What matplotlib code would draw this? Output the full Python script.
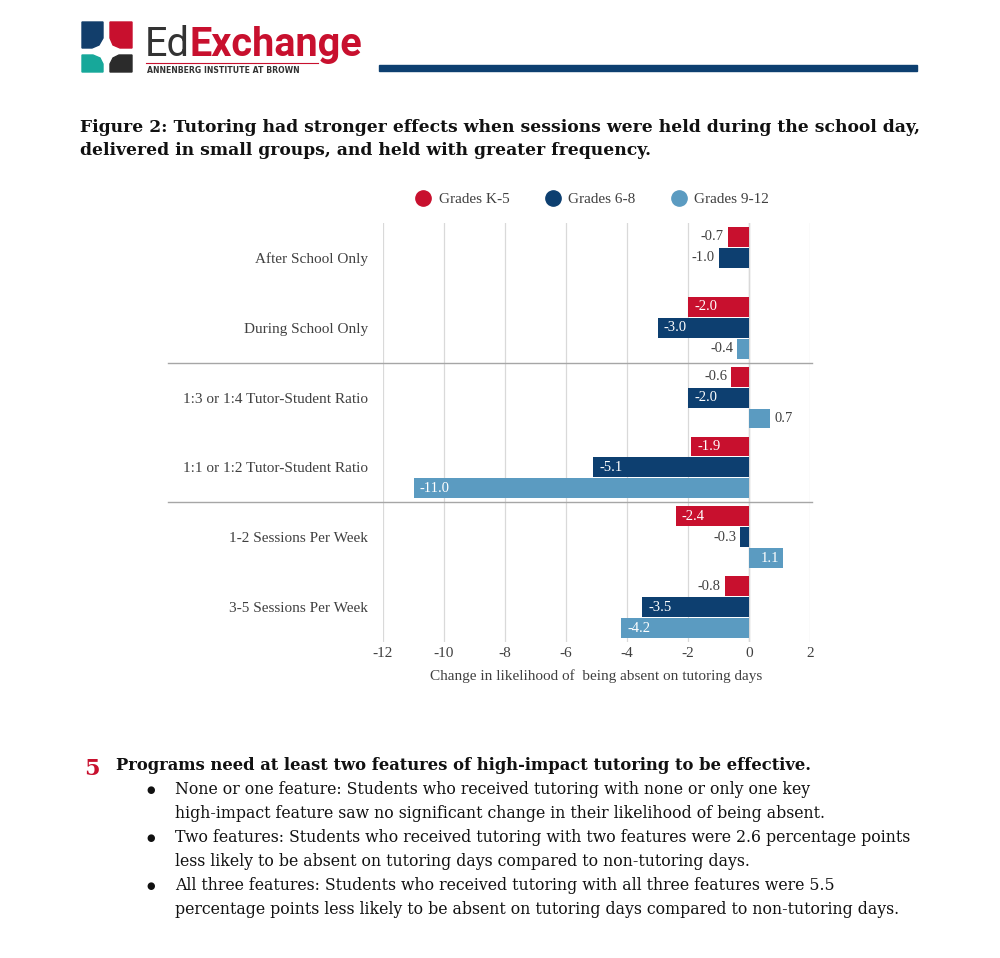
import matplotlib
matplotlib.use("Agg")
import matplotlib.pyplot as plt
import numpy as np
from matplotlib.lines import Line2D
from matplotlib.patches import Polygon, Rectangle

categories = ["After School Only", "During School Only", "1:3 or 1:4 Tutor-Student Ratio",
              "1:1 or 1:2 Tutor-Student Ratio", "1-2 Sessions Per Week", "3-5 Sessions Per Week"]
series_names = ["Grades K-5", "Grades 6-8", "Grades 9-12"]
k5 = [-0.7, -2.0, -0.6, -1.9, -2.4, -0.8]
g68 = [-1.0, -3.0, -2.0, -5.1, -0.3, -3.5]
g912 = [None, -0.4, 0.7, -11.0, 1.1, -4.2]
xticks = [-12, -10, -8, -6, -4, -2, 0, 2]
xlabel = "Change in likelihood of  being absent on tutoring days"

RED = "#C8102E"
NAVY = "#0D3F70"
LIGHT = "#5B9BC1"
colors = [RED, NAVY, LIGHT]
SERIF = ["Liberation Serif", "DejaVu Serif"]
GEORGIA = ["DejaVu Serif"]

fig = plt.figure(figsize=(10, 9.58), dpi=100)
W, H = 1000, 958

bg = fig.add_axes([0, 0, 1, 1], zorder=0)
bg.set_xlim(0, W)
bg.set_ylim(H, 0)
bg.axis("off")

# ---- Logo ----
bg.add_patch(Polygon([(82, 22), (103, 22), (103, 38), (99, 45), (92, 48), (82, 48)], closed=True, color="#123E6B"))
bg.add_patch(Polygon([(110, 22), (132, 22), (132, 48), (120, 48), (113, 45), (110, 38)], closed=True, color=RED))
bg.add_patch(Polygon([(82, 55), (93, 55), (100, 58), (103, 64), (103, 72), (82, 72)], closed=True, color="#17A89A"))
bg.add_patch(Polygon([(119, 55), (132, 55), (132, 72), (110, 72), (110, 64), (113, 58)], closed=True, color="#2B2B2B"))
t1 = bg.text(145, 56, "Ed", fontsize=28.5, family="Roboto", color="#333333", va="baseline", ha="left")
fig.canvas.draw()
bb = t1.get_window_extent()
x_ed_end = bb.x1
bg.text(x_ed_end, 56, "Exchange", fontsize=28.5, family="Roboto", fontweight="bold",
        color=RED, va="baseline", ha="left")
bg.plot([146, 318], [62.5, 62.5], color=RED, lw=0.8)
bg.text(147, 70.5, "ANNENBERG INSTITUTE AT BROWN", fontsize=5.6, family="DejaVu Sans",
        fontweight="bold", color="#333333", va="center", ha="left")
bg.add_patch(Rectangle((379, 65), 538, 6, color="#0D3F70"))

# ---- Title ----
bg.text(80, 127, "Figure 2: Tutoring had stronger effects when sessions were held during the school day,",
        fontsize=12.3, family=GEORGIA, fontweight="bold", color="#111111", va="center", ha="left")
bg.text(80, 150, "delivered in small groups, and held with greater frequency.",
        fontsize=12.3, family=GEORGIA, fontweight="bold", color="#111111", va="center", ha="left")

# ---- Chart ----
ax = fig.add_axes([0.383, (H - 642) / H, 0.427, (642 - 223) / H], zorder=2)
ax.patch.set_alpha(0)
y = np.arange(len(categories))
offsets = [-0.3, 0.0, 0.3]
bh = 0.285
for si, (vals, c) in enumerate(zip([k5, g68, g912], colors)):
    for i, v in enumerate(vals):
        if v is None:
            continue
        yy = y[i] + offsets[si]
        ax.barh(yy, v, height=bh, color=c, zorder=3)
        lab = f"{v:.1f}"
        if abs(v) > 1.0:
            if v < 0:
                ax.text(v + 0.2, yy, lab, color="white", ha="left", va="center",
                        fontsize=10.5, family=SERIF, zorder=4)
            else:
                ax.text(v - 0.1, yy, lab, color="white", ha="right", va="center",
                        fontsize=10.5, family=SERIF, zorder=4)
        else:
            if v < 0:
                ax.text(v - 0.12, yy, lab, color="#404040", ha="right", va="center",
                        fontsize=10.5, family=SERIF, zorder=4)
            else:
                ax.text(v + 0.12, yy, lab, color="#404040", ha="left", va="center",
                        fontsize=10.5, family=SERIF, zorder=4)

ax.set_xlim(-12, 2)
ax.set_ylim(5.5, -0.5)
ax.set_xticks(xticks)
ax.set_xticklabels([str(t) for t in xticks], family=SERIF, fontsize=11, color="#404040")
ax.set_yticks(y)
ax.set_yticklabels(categories, family=SERIF, fontsize=11, color="#404040")
ax.tick_params(length=0)
ax.tick_params(axis="y", pad=11)
ax.tick_params(axis="x", pad=3.5)
ax.grid(axis="x", color="#D9D9D9", lw=0.9, zorder=0)
ax.axvline(0, color="#BFBFBF", lw=0.9, zorder=1)
for s in ax.spines.values():
    s.set_visible(False)
for yl in [1.5, 3.5]:
    ax.axhline(yl, xmin=-0.504, xmax=1.005, color="#A6A6A6", lw=1.0, clip_on=False, zorder=2)
ax.set_xlabel(xlabel, family=SERIF, fontsize=11, color="#404040", labelpad=7)

handles = [Line2D([], [], marker="o", ls="", color=c, markersize=11) for c in colors]
ax.legend(handles, series_names, loc="lower center", bbox_to_anchor=(0.487, 1.025), ncol=3,
          frameon=False, prop={"family": SERIF, "size": 11}, labelcolor="#404040",
          handletextpad=0.3, columnspacing=2.15, borderaxespad=0, handlelength=1.4)

# ---- Bottom text ----
bg.text(92, 769, "5", fontsize=16, family=GEORGIA, fontweight="bold", color=RED, va="center", ha="center")
bg.text(116, 765, "Programs need at least two features of high-impact tutoring to be effective.",
        fontsize=11.8, family=GEORGIA, fontweight="bold", color="#111111", va="center", ha="left")
lines = [
    (790, True, "None or one feature: Students who received tutoring with none or only one key"),
    (813, False, "high-impact feature saw no significant change in their likelihood of being absent."),
    (838, True, "Two features: Students who received tutoring with two features were 2.6 percentage points"),
    (861, False, "less likely to be absent on tutoring days compared to non-tutoring days."),
    (886, True, "All three features: Students who received tutoring with all three features were 5.5"),
    (909, False, "percentage points less likely to be absent on tutoring days compared to non-tutoring days."),
]
for yy, bullet, txt in lines:
    if bullet:
        bg.text(151, yy, "\u25CF", fontsize=7, family="DejaVu Sans", color="#111111", va="center", ha="center")
    bg.text(175, yy, txt, fontsize=11.35, family=GEORGIA, color="#111111", va="center", ha="left")

fig.savefig("out.png", dpi=100)
